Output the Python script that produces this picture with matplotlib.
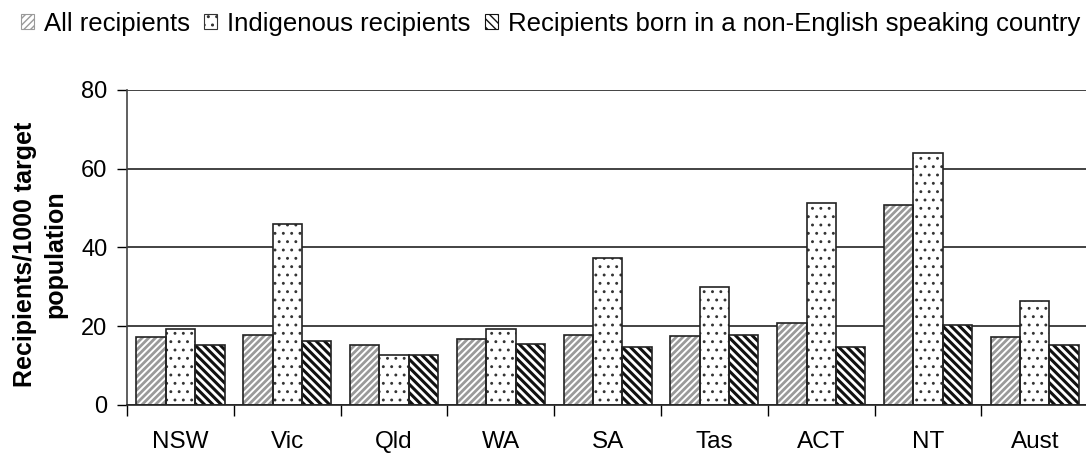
import matplotlib
matplotlib.use("Agg")
import matplotlib.pyplot as plt
import numpy as np
from matplotlib.patches import Patch

plt.rcParams['font.family'] = ['Liberation Sans', 'DejaVu Sans']

# data
states = ["NSW", "Vic", "Qld", "WA", "SA", "Tas", "ACT", "NT", "Aust"]
all_recip = [17.3, 17.8, 15.1, 16.7, 17.7, 17.6, 20.8, 50.8, 17.3]
indigenous = [19.3, 46.0, 12.6, 19.2, 37.3, 30.0, 51.4, 64.0, 26.4]
nesb = [15.1, 16.3, 12.6, 15.6, 14.6, 17.8, 14.7, 20.2, 15.1]

# name, values, hatch, hatch colour, hatch linewidth
series = [
    ("All recipients", all_recip, "/////", "#9a9a9a", 2.0),
    ("Indigenous recipients", indigenous, "..", "#333333", 0.9),
    ("Recipients born in a non-English speaking country", nesb, "\\\\\\\\", "#111111", 2.2),
]

fig = plt.figure(figsize=(10.86, 4.54), dpi=100)
ax = fig.add_axes([0.117, 0.108, 0.885, 0.694])

x = np.arange(len(states))
w = 0.275

handles = []
for i, (name, vals, hatch, hcol, hlw) in enumerate(series):
    pos = x + (i - 1) * w
    with plt.rc_context({'hatch.linewidth': hlw}):
        ax.bar(pos, vals, w, color="white", edgecolor=hcol, hatch=hatch, linewidth=0, zorder=2)
        handles.append(Patch(facecolor="white", edgecolor=hcol, hatch=hatch, linewidth=0.8, label=name))
    ax.bar(pos, vals, w, color="none", edgecolor="#222222", linewidth=1.2, zorder=3)

ax.set_ylim(0, 80)
ax.set_yticks([0, 20, 40, 60, 80])
ax.set_xlim(-0.5, len(states) - 0.5)
ax.set_xticks(x)
ax.set_xticklabels(states)
ax.set_xticks(np.arange(len(states) + 1) - 0.5, minor=True)
ax.tick_params(axis="x", which="major", length=0, pad=19, labelsize=17.5)
ax.tick_params(axis="x", which="minor", length=8, width=1, direction="out")
ax.tick_params(axis="y", length=7, width=1, direction="out", labelsize=17, pad=7)

ax.yaxis.grid(True, color="#222222", linewidth=1.2, zorder=0)
ax.set_axisbelow(True)
for s in ["top", "right"]:
    ax.spines[s].set_visible(False)
ax.spines["left"].set_color("#444444")
ax.spines["bottom"].set_color("#222222")
ax.spines["left"].set_linewidth(1.2)
ax.spines["bottom"].set_linewidth(1.2)

fig.text(0.037, 0.44, "Recipients/1000 target\npopulation", rotation=90, ha="center", va="center",
         fontsize=18, fontweight="bold", linespacing=1.37, multialignment="center")

fig.legend(handles=handles, loc="upper center", bbox_to_anchor=(0.507, 0.997), ncol=3,
           frameon=False, fontsize=18.5, handlelength=0.5, handleheight=0.5,
           handletextpad=0.4, columnspacing=0.55, borderaxespad=0)

fig.savefig("out.png", dpi=100)
